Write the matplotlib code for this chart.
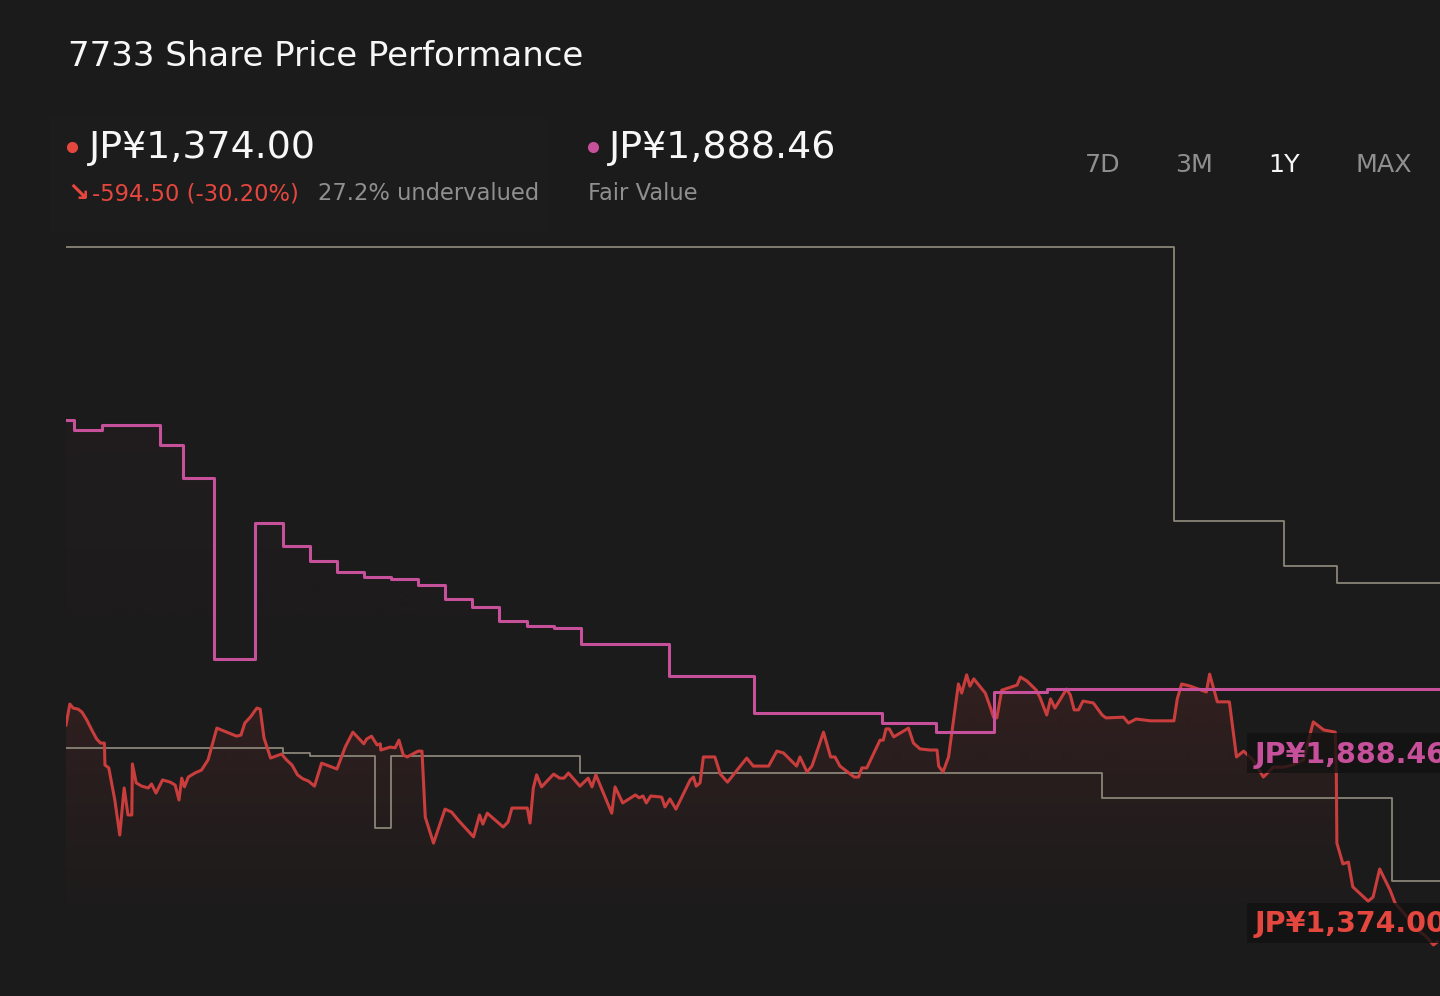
import numpy as np
import matplotlib
matplotlib.use('Agg')
import matplotlib.pyplot as plt
import matplotlib.colors as mcolors
from matplotlib.patches import Rectangle
from matplotlib.lines import Line2D

# ---------------- data (trading-day index, JP¥) ----------------
price_days = [0, 0.7, 1.3, 2.2, 2.9, 3.8, 4.7, 5.6, 6.3, 7.0,
              7.1, 7.8, 8.9, 9.8, 10.6, 11.3, 12.0, 12.1, 12.8, 13.8,
              15.0, 15.6, 16.4, 17.6, 19.0, 19.9, 20.6, 21.1, 21.6, 22.3,
              23.5, 24.7, 25.9, 27.5, 29.3, 31.1, 31.9, 32.6, 33.6, 34.8,
              35.4, 36.1, 37.3, 39.3, 40.2, 41.2, 42.2, 43.2, 44.2, 45.3,
              46.6, 49.4, 50.9, 52.3, 54.3, 54.8, 55.7, 56.7, 57.3, 57.4,
              59.1, 60.0, 60.7, 61.5, 62.2, 64.2, 64.9, 65.5, 67.0, 69.1,
              70.3, 71.5, 74.3, 75.4, 76.0, 76.8, 79.7, 80.6, 81.3, 84.1,
              84.6, 85.2, 85.8, 86.7, 88.9, 90.0, 90.8, 91.6, 93.7, 95.2,
              95.9, 96.6, 99.5, 100.1, 101.5, 103.8, 104.5, 105.2, 105.8, 106.6,
              108.6, 109.2, 110.1, 111.2, 113.8, 114.4, 114.9, 115.6, 116.2, 118.3,
              119.3, 120.6, 124.1, 125.3, 128.1, 129.6, 130.8, 133.2, 133.8, 135.1,
              136.0, 138.1, 139.4, 140.2, 141.1, 143.7, 144.5, 145.1, 146.0, 148.4,
              149.0, 149.5, 150.1, 150.9, 153.6, 154.5, 155.7, 157.5, 158.8, 159.1,
              159.9, 160.9, 162.7, 163.3, 164.2, 164.8, 165.5, 167.6, 168.5, 169.1,
              169.7, 170.6, 173.4, 174.0, 175.2, 176.9, 177.6, 178.8, 179.5, 180.3,
              182.4, 183.1, 183.8, 184.6, 185.4, 187.3, 188.9, 189.6, 192.8, 193.7,
              195.1, 197.7, 202.0, 202.6, 203.4, 205.0, 207.9, 208.5, 209.9, 212.1,
              212.6, 213.4, 214.7, 216.4, 218.3, 220.1, 221.9, 223.7, 225.6, 227.4,
              229.3, 231.4, 231.6, 231.7, 232.8, 233.8, 234.6, 237.4, 238.3, 239.5,
              241.4, 242.3, 244.2, 246.0, 247.9, 249.3, 250.0]
price_vals = [1968.5, 2026, 2015, 2012, 2004, 1982, 1955, 1930, 1919, 1919,
              1859, 1851, 1763, 1667, 1796, 1722, 1722, 1862, 1810, 1801,
              1796, 1807, 1782, 1818, 1812, 1804, 1763, 1823, 1799, 1826,
              1837, 1845, 1873, 1960, 1949, 1938, 1941, 1974, 1990, 2015,
              2012, 1933, 1878, 1889, 1873, 1859, 1832, 1821, 1815, 1801,
              1864, 1848, 1908, 1949, 1917, 1930, 1938, 1914, 1917, 1900,
              1908, 1906, 1927, 1886, 1881, 1897, 1897, 1716, 1645, 1738,
              1730, 1708, 1662, 1722, 1697, 1727, 1689, 1703, 1741, 1741,
              1700, 1796, 1832, 1799, 1834, 1823, 1823, 1837, 1801, 1823,
              1799, 1832, 1727, 1799, 1755, 1777, 1769, 1774, 1755, 1774,
              1771, 1744, 1766, 1738, 1818, 1826, 1801, 1810, 1881, 1881,
              1834, 1812, 1878, 1856, 1856, 1897, 1892, 1856, 1881, 1840,
              1856, 1949, 1881, 1881, 1856, 1826, 1826, 1851, 1851, 1927,
              1927, 1958, 1958, 1936, 1960, 1919, 1903, 1900, 1900, 1856,
              1840, 1881, 2081, 2056, 2106, 2075, 2095, 2056, 2018, 1990,
              1988, 2064, 2078, 2100, 2089, 2064, 2043, 1996, 2040, 2015,
              2067, 2051, 2010, 2010, 2034, 2029, 1996, 1988, 1990, 1974,
              1985, 1980, 1980, 2040, 2081, 2075, 2059, 2108, 2032, 2032,
              1974, 1881, 1897, 1873, 1826, 1853, 1853, 1859, 1873, 1977,
              1955, 1949, 1832, 1645, 1588, 1593, 1525, 1486, 1497, 1574,
              1516, 1481, 1448, 1412, 1390, 1366, 1374]

fv_days = [0, 1.5, 6.5, 17.1, 21.4, 26.9, 34.5, 39.6, 44.5, 49.4, 54.4, 59.3,
           64.2, 69.1, 74.0, 79.0, 84.0, 88.9, 93.9, 110.0, 125.5, 148.8,
           158.6, 169.1, 178.9]
fv_vals = [2804, 2777, 2791, 2736, 2645, 2149, 2522, 2459, 2418, 2388, 2374, 2369,
           2352, 2314, 2292, 2254, 2240, 2234, 2191, 2103, 2001, 1974,
           1949, 2059, 2066]

upper_days = [0, 202.0, 222.0, 231.7]
upper_vals = [3277, 2528, 2404, 2358]
lower_days = [0, 39.5, 44.4, 56.3, 59.3, 93.7, 188.9, 241.7]
lower_vals = [1905, 1893, 1884, 1686, 1884, 1836, 1769, 1541]

title = "7733 Share Price Performance"
price_label = "JP¥1,374.00"
fv_label = "JP¥1,888.46"
change_label = "-594.50 (-30.20%)"
under_label = "27.2% undervalued"
fv_sub = "Fair Value"
ranges = ["7D", "3M", "1Y", "MAX"]
active_range = "1Y"

# ---------------- style ----------------
BG = '#1b1b1b'
RED = '#c93d3d'
RED_TXT = '#e5473f'
PINK = '#c6509a'
GRAY_LINE = '#8a8577'
GRAY_TXT = '#8f8f8f'
WHITE = '#f7f7f7'

W, H = 1440, 996
fig = plt.figure(figsize=(W / 100, H / 100), dpi=100, facecolor=BG)


def fx(px):
    return px / W


def fy(py):
    return 1 - py / H


ax = fig.add_axes([fx(66), 0, 1 - fx(66), 1])
ax.set_facecolor('none')
ax.axis('off')
X_END = 250.5
YLIM = (1226.0, 3955.1)
ax.set_ylim(*YLIM)


def gradient_fill(x, y, color, a_top, y_top, y_bot, step=None, z=1):
    poly = ax.fill_between(x, y, YLIM[0], step=step, facecolor='none',
                           edgecolor='none')
    n = 256
    rgba = np.zeros((n, 1, 4))
    rgba[:, :, :3] = mcolors.to_rgb(color)
    rgba[:, 0, 3] = np.linspace(a_top, 0, n)
    im = ax.imshow(rgba, extent=[x[0], x[-1], y_bot, y_top], origin='upper',
                   aspect='auto', zorder=z, interpolation='bilinear')
    im.set_clip_path(poly.get_paths()[0], ax.transData)


fv_x = np.append(fv_days, X_END)
fv_y = np.append(fv_vals, fv_vals[-1])
up_x = np.append(upper_days, X_END)
up_y = np.append(upper_vals, upper_vals[-1])
lo_x = np.append(lower_days, X_END)
lo_y = np.append(lower_vals, lower_vals[-1])

gradient_fill(fv_x, fv_y, PINK, 0.035, 2804, 2000, step='post', z=0.5)
gradient_fill(np.array(price_days), np.array(price_vals), RED, 0.14, 2119, 1420, z=1)

ax.plot(up_x, up_y, drawstyle='steps-post', color=GRAY_LINE, lw=1.3, zorder=2)
ax.plot(lo_x, lo_y, drawstyle='steps-post', color=GRAY_LINE, lw=1.3, zorder=2)
ax.plot(price_days, price_vals, color=RED, lw=2.2, zorder=3)
ax.plot(fv_x, fv_y, drawstyle='steps-post', color=PINK, lw=2.2, zorder=4)

ax.set_xlim(0, X_END)
ax.set_ylim(*YLIM)

# ---------------- header ----------------
fig.add_artist(Rectangle((fx(50), fy(232)), fx(548 - 50), (232 - 116) / H,
                         transform=fig.transFigure, fc='#1d1c1c', ec='none',
                         zorder=-1))

fig.text(fx(68), fy(66), title, color=WHITE, fontsize=24.5, va='baseline',
         ha='left')

fig.add_artist(Line2D([fx(72)], [fy(147)], marker='o', markersize=7,
                      color=RED_TXT, transform=fig.transFigure, lw=0))
fig.add_artist(Line2D([fx(593)], [fy(147)], marker='o', markersize=7,
                      color=PINK, transform=fig.transFigure, lw=0))
fig.text(fx(89), fy(158), price_label, color=WHITE, fontsize=27.3,
         va='baseline', ha='left')
fig.text(fx(609), fy(158), fv_label, color=WHITE, fontsize=27.3,
         va='baseline', ha='left')

fig.text(fx(67), fy(201), "↘", color=RED_TXT, fontsize=19, fontweight='bold',
         va='baseline', ha='left')
fig.text(fx(92), fy(200), change_label, color=RED_TXT, fontsize=16.3,
         va='baseline', ha='left')
fig.text(fx(318), fy(200), under_label, color=GRAY_TXT, fontsize=16.3,
         va='baseline', ha='left')
fig.text(fx(588), fy(200), fv_sub, color=GRAY_TXT, fontsize=16.3,
         va='baseline', ha='left')

range_x = [1085, 1175, 1268, 1355]
for lbl, px in zip(ranges, range_x):
    fig.text(fx(px), fy(172.5), lbl, fontsize=18.3, va='baseline', ha='left',
             color=WHITE if lbl == active_range else GRAY_TXT)

# ---------------- right-edge labels ----------------
for top, bot, base, txt, col in [(733, 773, 763, fv_label, PINK),
                                 (903, 943, 932, price_label, RED_TXT)]:
    fig.add_artist(Rectangle((fx(1247), fy(bot)), fx(1440 - 1247) + 0.01,
                             (bot - top) / H, transform=fig.transFigure,
                             fc='#131212', ec='none', alpha=0.8, zorder=5))
    fig.text(fx(1255), fy(base), txt, color=col, fontsize=20.5,
             fontweight='bold', va='baseline', ha='left', zorder=6)

fig.savefig('out.png', dpi=100, facecolor=BG)
